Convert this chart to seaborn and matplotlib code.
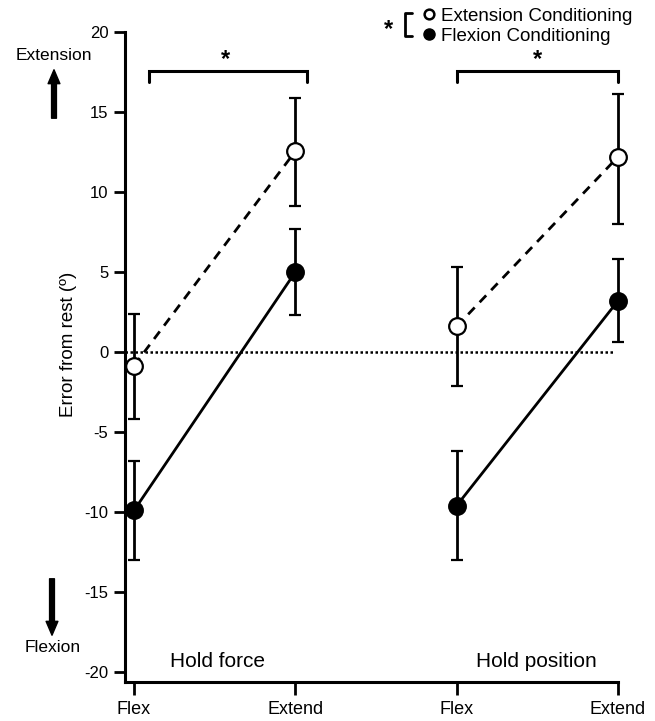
import matplotlib
matplotlib.use("Agg")
import matplotlib.pyplot as plt
from matplotlib.lines import Line2D
from matplotlib.patches import FancyArrowPatch
import seaborn as sns
import pandas as pd
import numpy as np

# ---- data ----
x_labels = ["Flex", "Extend", "Flex", "Extend"]
tasks = ["Hold force", "Hold force", "Hold position", "Hold position"]
ext_mean = [-0.85, 12.55, 1.6, 12.2]
ext_lo = [-4.2, 9.1, -2.1, 8.0]
ext_hi = [2.4, 15.9, 5.3, 16.1]
flx_mean = [-9.9, 5.0, -9.6, 3.2]
flx_lo = [-13.0, 2.3, -13.0, 0.6]
flx_hi = [-6.8, 7.7, -6.2, 5.8]
cond_names = ["Extension Conditioning", "Flexion Conditioning"]

sns.set_theme(style="ticks")
plt.rcParams["font.family"] = ["Liberation Sans", "DejaVu Sans"]
for k in ["text.color", "axes.labelcolor", "xtick.color", "ytick.color", "axes.edgecolor"]:
    plt.rcParams[k] = "black"

W, H = 655, 721
fig = plt.figure(figsize=(W / 100, H / 100), dpi=100)

def fx(px):
    return px / W

def fy(py):
    return 1 - py / H

# axes: x=-0.056 at px125, x=3 at px618 ; y=21.5 at py8, y=-20.6 at py681.6
ax = fig.add_axes([fx(125), fy(681.6), fx(618) - fx(125), fy(8) - fy(681.6)])
ax.set_xlim(-0.056, 3.0)
ax.set_ylim(-20.6, 21.5)

xpos = list(range(len(x_labels)))
df = pd.DataFrame({
    "x": xpos * 2,
    "y": ext_mean + flx_mean,
    "cond": [cond_names[0]] * 4 + [cond_names[1]] * 4,
    "task": tasks * 2,
})

sns.lineplot(data=df, x="x", y="y", style="cond", units="task", estimator=None,
             color="black", linewidth=2.0, ax=ax, legend=False,
             dashes={cond_names[0]: (3.4, 2.6), cond_names[1]: ""}, zorder=2)
for ln in ax.lines:
    ln.set_clip_on(False)

# zero line
ax.plot([-0.056, 2.98], [0, 0], color="black", lw=1.8, ls=(0, (1, 1.0)), zorder=1)

# error bars + markers
for means, lo, hi, face in [(ext_mean, ext_lo, ext_hi, "white"),
                            (flx_mean, flx_lo, flx_hi, "black")]:
    m = np.array(means)
    yerr = np.vstack([m - np.array(lo), np.array(hi) - m])
    eb = ax.errorbar(xpos, m, yerr=yerr, fmt="o", color="black", ecolor="black",
                     elinewidth=2.0, capsize=4.5, capthick=2.0, markersize=12,
                     markerfacecolor=face, markeredgecolor="black",
                     markeredgewidth=1.6, zorder=4)
    for art in eb.lines[0:1] + tuple(eb.lines[1]) + tuple(eb.lines[2]):
        art.set_clip_on(False)

# spines & ticks
sns.despine(ax=ax)
ax.spines["left"].set_linewidth(2.2)
ax.spines["bottom"].set_linewidth(2.2)
ax.spines["left"].set_bounds(-20.6, 20)
ax.spines["bottom"].set_bounds(-0.056, 3.0)
ax.set_yticks([20, 15, 10, 5, 0, -5, -10, -15, -20])
ax.set_yticklabels(["20", "15", "10", "5", "0", "-5", "-10", "-15", "-20"])
ax.set_xticks(xpos)
ax.set_xticklabels(x_labels)
ax.tick_params(axis="y", length=8, width=2, pad=4, labelsize=12, direction="out")
ax.tick_params(axis="x", length=9, width=2, pad=5, labelsize=13, direction="out")
ax.set_xlabel("")
ax.set_ylabel("Error from rest (º)", fontsize=13.5, labelpad=5)

# significance brackets
def bracket(x0, x1, star_x):
    ax.plot([x0, x0, x1, x1], [16.85, 17.55, 17.55, 16.85], color="black", lw=2.2,
            solid_joinstyle="miter", clip_on=False)
    ax.text(star_x, 17.55, "*", ha="center", va="bottom", fontsize=17,
            fontweight="bold")

bracket(0.093, 1.07, 0.565)
bracket(2.0, 3.0, 2.5)

# task labels
ax.text(0.22, -19.35, "Hold force", ha="left", va="center", fontsize=15)
ax.text(2.12, -19.35, "Hold position", ha="left", va="center", fontsize=15)

# legend
handles = [Line2D([], [], ls="none", marker="o", markersize=7, markerfacecolor="white",
                  markeredgecolor="black", markeredgewidth=1.8),
           Line2D([], [], ls="none", marker="o", markersize=8, markerfacecolor="black",
                  markeredgecolor="black")]
fig.legend(handles, cond_names, loc="center left", bbox_to_anchor=(fx(423), fy(26)),
           frameon=False, handlelength=0.6, handletextpad=0.35, labelspacing=0.15,
           borderpad=0, borderaxespad=0, fontsize=13.5)
fig.add_artist(Line2D([fx(412), fx(405), fx(405), fx(412)],
                      [fy(13), fy(13), fy(36), fy(36)], color="black", lw=2,
                      transform=fig.transFigure))
fig.text(fx(389), fy(30), "*", ha="center", va="center", fontsize=17, fontweight="bold")

# direction annotations
fig.text(fx(54), fy(55), "Extension", ha="center", va="center", fontsize=12.5)
fig.text(fx(53), fy(648), "Flexion", ha="center", va="center", fontsize=12.5)
astyle = "simple,head_width=0.85,head_length=1.0,tail_width=0.35"
fig.add_artist(FancyArrowPatch((fx(54), fy(121)), (fx(54), fy(67)),
               transform=fig.transFigure, arrowstyle=astyle,
               mutation_scale=10, color="black"))
fig.add_artist(FancyArrowPatch((fx(52), fy(576)), (fx(52), fy(638)),
               transform=fig.transFigure, arrowstyle=astyle,
               mutation_scale=10, color="black"))

fig.savefig("out.png", dpi=100)
